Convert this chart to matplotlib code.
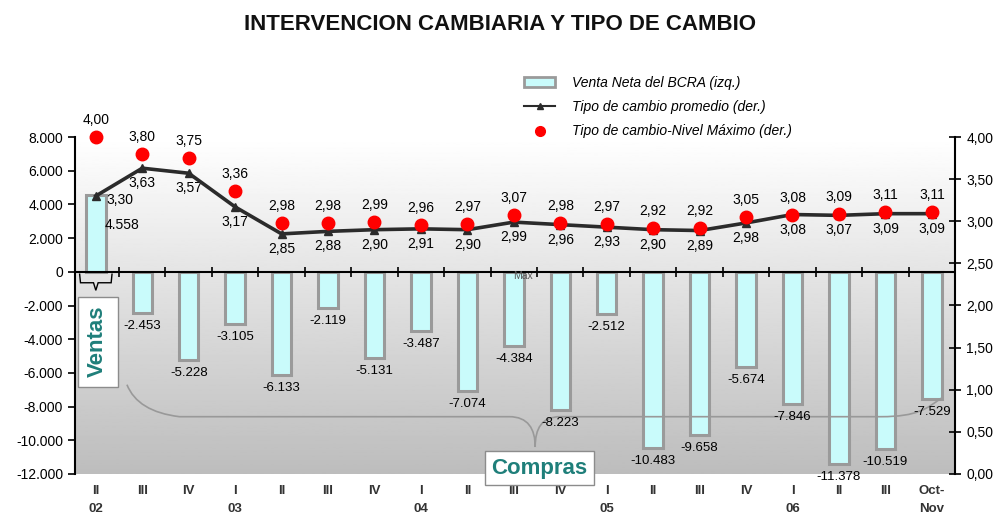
import numpy as np
import matplotlib
matplotlib.use("Agg")
import matplotlib.pyplot as plt
from matplotlib.patches import Patch, PathPatch
from matplotlib.lines import Line2D
from matplotlib.path import Path

plt.rcParams['font.family'] = ['Liberation Sans', 'DejaVu Sans']

# ---------------------------------------------------------------------------
# Data
# ---------------------------------------------------------------------------
quarters = ["II\n02", "III", "IV", "I\n03", "II", "III", "IV", "I\n04", "II",
            "III", "IV", "I\n05", "II", "III", "IV", "I\n06", "II", "III",
            "Oct-\nNov"]
venta_neta = [4558, -2453, -5228, -3105, -6133, -2119, -5131, -3487, -7074,
              -4384, -8223, -2512, -10483, -9658, -5674, -7846, -11378,
              -10519, -7529]
tc_promedio = [3.30, 3.63, 3.57, 3.17, 2.85, 2.88, 2.90, 2.91, 2.90, 2.99,
               2.96, 2.93, 2.90, 2.89, 2.98, 3.08, 3.07, 3.09, 3.09]
tc_maximo = [4.00, 3.80, 3.75, 3.36, 2.98, 2.98, 2.99, 2.96, 2.97, 3.07,
             2.98, 2.97, 2.92, 2.92, 3.05, 3.08, 3.09, 3.11, 3.11]

left_ticks = [8000, 6000, 4000, 2000, 0, -2000, -4000, -6000, -8000, -10000, -12000]
right_ticks = [0.0, 0.5, 1.0, 1.5, 2.0, 2.5, 3.0, 3.5, 4.0]


def fmt_miles(v):
    return f"{int(v):,}".replace(",", ".")


def fmt_dec(v):
    return f"{v:.2f}".replace(".", ",")


x = np.arange(len(quarters))

fig = plt.figure(figsize=(9.99, 5.20), dpi=100)
ax = fig.add_axes([0.075, 0.0885, 0.881, 0.648])
ax.set_xlim(-0.45, len(quarters) - 0.5)
ax.set_ylim(-12000, 8000)

# grey gradient background of the plot area
grad = np.linspace(1.0, 0.74, 256).reshape(-1, 1)
ax.imshow(grad, cmap="gray", vmin=0, vmax=1, aspect="auto",
          extent=[-0.45, len(quarters) - 0.5, -12000, 8000], zorder=0)

# bars
ax.bar(x, venta_neta, width=0.42, color="#c9fbfb", edgecolor="#9a9a9a",
       linewidth=2.2, zorder=2)

# zero line with small separators between categories
ax.axhline(0, color="black", lw=1.5, zorder=3)
ax.plot(x[:-1] + 0.5, np.zeros(len(x) - 1), ls="none", marker="|",
        ms=7, mew=1.2, color="black", zorder=3)

for i, v in enumerate(venta_neta):
    if v > 0:
        ax.annotate(fmt_miles(v), (x[i], v), xytext=(26, -30),
                    textcoords="offset pixels", ha="center", va="center",
                    fontsize=10, zorder=5)
    else:
        ax.annotate(fmt_miles(v), (x[i], v), xytext=(0, -13),
                    textcoords="offset pixels", ha="center", va="center",
                    fontsize=9.5, zorder=5)

ax.set_yticks(left_ticks)
ax.set_yticklabels([fmt_miles(v) for v in left_ticks], fontsize=10)
ax.tick_params(axis="y", direction="out", length=5, width=1.2)
ax.set_xticks(x)
ax.set_xticklabels(quarters, fontsize=9.5, fontweight="bold", color="#333333",
                   linespacing=1.7)
ax.tick_params(axis="x", length=0, pad=8)
for s in ["top", "bottom", "right"]:
    ax.spines[s].set_visible(False)
ax.spines["left"].set_linewidth(1.5)

# right axis: exchange rate
ax2 = ax.twinx()
ax2.set_ylim(0, 4)
ax2.plot(x, tc_promedio, color="#2b2b2b", lw=2.6, marker="^", ms=6,
         zorder=4)
ax2.plot(x, tc_maximo, ls="none", marker="o", ms=9, color="#ff0000",
         zorder=5, clip_on=False)
for i in range(len(x)):
    if i == 0:
        ax2.annotate(fmt_dec(tc_promedio[i]), (x[i], tc_promedio[i]),
                     xytext=(24, -4), textcoords="offset pixels",
                     ha="center", va="center", fontsize=10)
    else:
        ax2.annotate(fmt_dec(tc_promedio[i]), (x[i], tc_promedio[i]),
                     xytext=(0, -15), textcoords="offset pixels",
                     ha="center", va="center", fontsize=10)
    ax2.annotate(fmt_dec(tc_maximo[i]), (x[i], tc_maximo[i]),
                 xytext=(0, 17), textcoords="offset pixels",
                 ha="center", va="center", fontsize=10, annotation_clip=False)

ax2.set_yticks(right_ticks)
ax2.set_yticklabels([fmt_dec(v) for v in right_ticks], fontsize=10)
ax2.tick_params(axis="y", direction="inout", length=9, width=1.2)
for s in ["top", "bottom", "left"]:
    ax2.spines[s].set_visible(False)
ax2.spines["right"].set_linewidth(1.5)

# braces and the Ventas / Compras boxes
brace = Path([(0.67, -6700), (0.9, -8300), (1.8, -8600),
              (8.9, -8600), (9.3, -8600), (9.46, -9300), (9.46, -10400),
              (9.46, -9300), (9.6, -8600), (10.0, -8600),
              (16.9, -8600), (17.7, -8600), (17.9, -8100), (18.2, -7500)],
             [Path.MOVETO, Path.CURVE3, Path.CURVE3,
              Path.LINETO, Path.CURVE4, Path.CURVE4, Path.CURVE4,
              Path.CURVE4, Path.CURVE4, Path.CURVE4,
              Path.LINETO, Path.CURVE4, Path.CURVE4, Path.CURVE4])
ax.add_patch(PathPatch(brace, fill=False, ec="#999999", lw=1.2, zorder=2.5))

small = Path([(-0.35, -100), (-0.33, -650), (-0.05, -650), (0.0, -1100),
              (0.05, -650), (0.33, -650), (0.35, -100)],
             [Path.MOVETO] + [Path.LINETO] * 6)
ax.add_patch(PathPatch(small, fill=False, ec="black", lw=1.0, zorder=3,
                       clip_on=False))

ax.text(0.04, -4150, "Ventas", rotation=90, ha="center", va="center",
        fontsize=16, fontweight="bold", color="#1f7f7a", zorder=6,
        bbox=dict(boxstyle="square,pad=0.42", fc="white", ec="#8c8c8c", lw=1))
ax.text(9.55, -11650, "Compras", ha="center", va="center",
        fontsize=16, fontweight="bold", color="#1f7f7a", zorder=6,
        clip_on=False,
        bbox=dict(boxstyle="square,pad=0.3", fc="white", ec="#8c8c8c", lw=1))
ax.text(9.2, -250, "Max", ha="center", va="center", fontsize=7.5,
        color="#555555", zorder=6)

# legend
handles = [Patch(fc="#c9fbfb", ec="#9a9a9a", lw=2),
           Line2D([], [], color="#2b2b2b", lw=1.5, marker="^", ms=5),
           Line2D([], [], ls="none", marker="o", ms=7, color="#ff0000")]
labels = ["Venta Neta del BCRA (izq.)", "Tipo de cambio promedio (der.)",
          "Tipo de cambio-Nivel Máximo (der.)"]
fig.legend(handles, labels, loc="upper left", bbox_to_anchor=(0.518, 0.868),
           frameon=False, prop=dict(style="italic", size=10),
           handlelength=2.2, handletextpad=1.2, labelspacing=0.75,
           borderpad=0)

fig.text(0.5, 0.952, "INTERVENCION CAMBIARIA Y TIPO DE CAMBIO",
         ha="center", va="center", fontsize=16, fontweight="bold",
         family=["Liberation Sans Narrow", "Liberation Sans"],
         color="#111111")

fig.savefig("out.png", dpi=100)
